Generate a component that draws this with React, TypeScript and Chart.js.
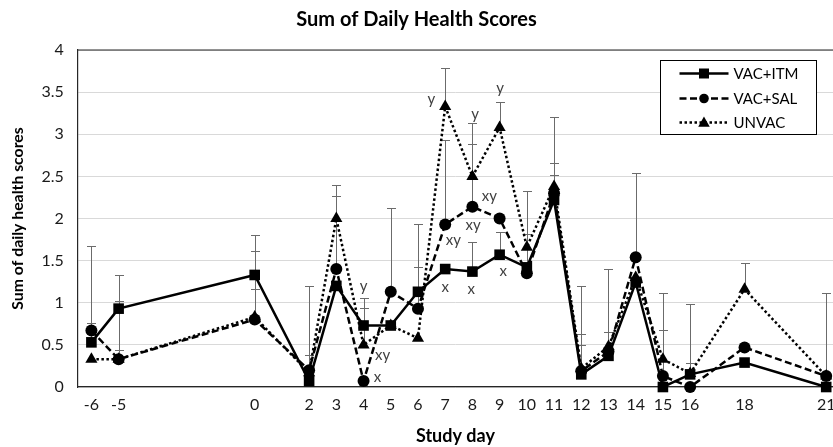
import React, { useEffect, useRef } from 'react';
import { Chart, registerables } from 'chart.js';

Chart.register(...registerables);

const FONT = 'Lato';

const days = [-6, -5, 0, 2, 3, 4, 5, 6, 7, 8, 9, 10, 11, 12, 13, 14, 15, 16, 18, 21];

const seriesNames = ['VAC+ITM', 'VAC+SAL', 'UNVAC'];

const vacItm = [0.53, 0.93, 1.33, 0.07, 1.2, 0.73, 0.73, 1.13, 1.4, 1.37, 1.57, 1.42, 2.22, 0.15, 0.37, 1.24, 0.0, 0.15, 0.29, 0.0];
const vacSal = [0.67, 0.33, 0.8, 0.2, 1.4, 0.07, 1.13, 0.93, 1.93, 2.14, 2.0, 1.35, 2.3, 0.19, 0.42, 1.54, 0.13, 0.0, 0.47, 0.13];
const unvac = [0.33, 0.33, 0.83, 0.17, 2.0, 0.5, 0.73, 0.58, 3.33, 2.5, 3.08, 1.66, 2.38, 0.22, 0.48, 1.3, 0.33, 0.16, 1.16, 0.13];

const errItm = [1.14, 0.4, 0.47, 1.13, 0, 0.33, 0, 0.8, 0, 0.35, 0.27, 0, 0.3, 1.05, 1.03, 0, 0, 0.84, 0, 0];
const errSal = [0.09, 0.69, 0.36, 0.18, 0.87, 0, 1.0, 0.5, 1.0, 0.74, 0, 0.47, 0.36, 0.44, 0.23, 1.0, 0.55, 0, 0, 0.99];
const errUnvac = [0, 0.11, 0.79, 0, 0.4, 0.44, 0, 0, 0.46, 0.63, 0.3, 0.67, 0.82, 0.28, 0, 0, 0.79, 0.12, 0.31, 0];

const yTicks = [0, 0.5, 1, 1.5, 2, 2.5, 3, 3.5, 4];

const annDays = [4.0, 4.7, 4.51, 6.49, 7.3, 7.0, 8.1, 8.62, 8.03, 7.96, 9.02, 9.13];
const annValues = [1.2, 0.38, 0.12, 3.42, 1.74, 1.19, 3.24, 2.26, 1.92, 1.16, 3.55, 1.38];
const annTexts = ['y', 'xy', 'x', 'y', 'xy', 'x', 'y', 'xy', 'xy', 'x', 'y', 'x'];

const values = [vacItm, vacSal, unvac];
const errors = [errItm, errSal, errUnvac];
const pointStyles = ['rect', 'circle', 'triangle'];
const pointRadii = [7.5, 6, 7];
const dashes = [[], [7, 3.5], [2.5, 2.5]];

function drawMarker(ctx: CanvasRenderingContext2D, style: string, x: number, y: number, r: number) {
  ctx.beginPath();
  if (style === 'rect') {
    ctx.rect(x - r, y - r, 2 * r, 2 * r);
  } else if (style === 'circle') {
    ctx.arc(x, y, r, 0, Math.PI * 2);
  } else {
    ctx.moveTo(x, y - r * 1.1);
    ctx.lineTo(x + r * 1.05, y + r * 0.75);
    ctx.lineTo(x - r * 1.05, y + r * 0.75);
    ctx.closePath();
  }
  ctx.fill();
}

const extrasPlugin = {
  id: 'extras',
  beforeDatasetsDraw(chart: any) {
    const { ctx, chartArea, scales } = chart;
    const xs = scales.x;
    const ys = scales.y;
    ctx.save();
    ctx.strokeStyle = '#262626';
    ctx.lineWidth = 1.2;
    ctx.beginPath();
    ctx.moveTo(chartArea.left, chartArea.top);
    ctx.lineTo(chart.width, chartArea.top);
    ctx.stroke();
    ctx.strokeStyle = '#6b6b6b';
    ctx.lineWidth = 1;
    errors.forEach((errArr, s) => {
      errArr.forEach((e, i) => {
        if (!e) return;
        const px = Math.round(xs.getPixelForValue(days[i])) + 0.5;
        const y0 = ys.getPixelForValue(values[s][i]);
        const y1 = Math.round(ys.getPixelForValue(values[s][i] + e)) + 0.5;
        ctx.beginPath();
        ctx.moveTo(px, y0);
        ctx.lineTo(px, y1);
        ctx.moveTo(px - 4.5, y1);
        ctx.lineTo(px + 4.5, y1);
        ctx.stroke();
      });
    });
    ctx.restore();
  },
  afterDraw(chart: any) {
    const { ctx, chartArea, scales } = chart;
    const xs = scales.x;
    const ys = scales.y;
    ctx.save();
    ctx.fillStyle = '#404040';
    ctx.font = `15px ${FONT}`;
    ctx.textAlign = 'center';
    ctx.textBaseline = 'middle';
    annTexts.forEach((t, i) => {
      ctx.fillText(t, xs.getPixelForValue(annDays[i]), ys.getPixelForValue(annValues[i]));
    });
    const bw = 156;
    const bh = 74;
    const bx = Math.round(chartArea.right - 173) + 0.5;
    const by = Math.round(chartArea.top + 10) + 0.5;
    ctx.fillStyle = '#ffffff';
    ctx.fillRect(bx, by, bw, bh);
    ctx.strokeStyle = '#000000';
    ctx.lineWidth = 1;
    ctx.strokeRect(bx, by, bw, bh);
    const rows = [13, 38, 62];
    const legendR = [5, 4.8, 5.5];
    seriesNames.forEach((name, s) => {
      const ry = by + rows[s];
      ctx.strokeStyle = '#000';
      ctx.lineWidth = 2.5;
      ctx.setLineDash(dashes[s]);
      ctx.beginPath();
      ctx.moveTo(bx + 19, ry);
      ctx.lineTo(bx + 68, ry);
      ctx.stroke();
      ctx.setLineDash([]);
      ctx.fillStyle = '#000';
      drawMarker(ctx, pointStyles[s], bx + 43.5, ry, legendR[s]);
      ctx.font = `15px ${FONT}`;
      ctx.textAlign = 'left';
      ctx.textBaseline = 'middle';
      ctx.fillText(name, bx + 73, ry + 1);
    });
    ctx.restore();
  },
};

export default function App() {
  const canvasRef = useRef<HTMLCanvasElement | null>(null);

  useEffect(() => {
    if (!canvasRef.current) return;
    const datasets = seriesNames.map((name, s) => ({
      label: name,
      data: days.map((d, i) => ({ x: d, y: values[s][i] })),
      borderColor: '#000000',
      backgroundColor: '#000000',
      borderWidth: 2.5,
      borderDash: dashes[s],
      pointStyle: pointStyles[s] as any,
      pointRadius: pointRadii[s],
      pointBackgroundColor: '#000000',
      pointBorderColor: '#000000',
      pointBorderWidth: 0,
      tension: 0,
      fill: false,
      clip: false as any,
    }));

    const chart = new Chart(canvasRef.current, {
      type: 'line',
      data: { datasets },
      options: {
        responsive: false,
        animation: false,
        maintainAspectRatio: false,
        layout: { padding: 0, autoPadding: false },
        plugins: {
          legend: { display: false },
          tooltip: { enabled: false },
          title: {
            display: true,
            text: 'Sum of Daily Health Scores',
            color: '#000000',
            font: { family: FONT, size: 20, weight: 'bold' },
            padding: { top: 8, bottom: 18 },
          },
        },
        scales: {
          x: {
            type: 'linear',
            min: -6.5,
            max: 21.25,
            afterBuildTicks: (scale: any) => {
              scale.ticks = days.map((v) => ({ value: v }));
            },
            afterFit: (scale: any) => {
              scale.paddingLeft = 0;
              scale.paddingRight = 0;
            },
            grid: { display: false, drawTicks: false },
            border: { display: true, color: '#262626', width: 1.2 },
            ticks: {
              autoSkip: false,
              maxRotation: 0,
              minRotation: 0,
              padding: 8,
              color: '#1a1a1a',
              font: { family: FONT, size: 16 },
              callback: (v: any) => String(v),
            },
            title: {
              display: true,
              text: 'Study day',
              color: '#000000',
              font: { family: FONT, size: 18, weight: 'bold' },
              padding: { top: 3.2, bottom: 0 },
            },
          },
          y: {
            type: 'linear',
            min: 0,
            max: 4,
            afterBuildTicks: (scale: any) => {
              scale.ticks = yTicks.map((v) => ({ value: v }));
            },
            grid: { color: '#d9d9d9', lineWidth: 1, drawTicks: false },
            border: { display: true, color: '#262626', width: 1.2 },
            ticks: {
              padding: 14,
              color: '#1a1a1a',
              font: { family: FONT, size: 16 },
              callback: (v: any) => String(v),
            },
            title: {
              display: true,
              text: 'Sum of daily health scores',
              color: '#000000',
              font: { family: FONT, size: 15.8, weight: 'bold' },
              padding: { top: 8.5, bottom: 0 },
            },
          },
        },
      },
      plugins: [extrasPlugin],
    });
    return () => chart.destroy();
  }, []);

  return (
    <div style={{ position: 'absolute', left: 0, top: 0, width: 833, height: 447, background: '#ffffff' }}>
      <canvas ref={canvasRef} width={833} height={447} style={{ width: 833, height: 447, display: 'block' }} />
    </div>
  );
}
